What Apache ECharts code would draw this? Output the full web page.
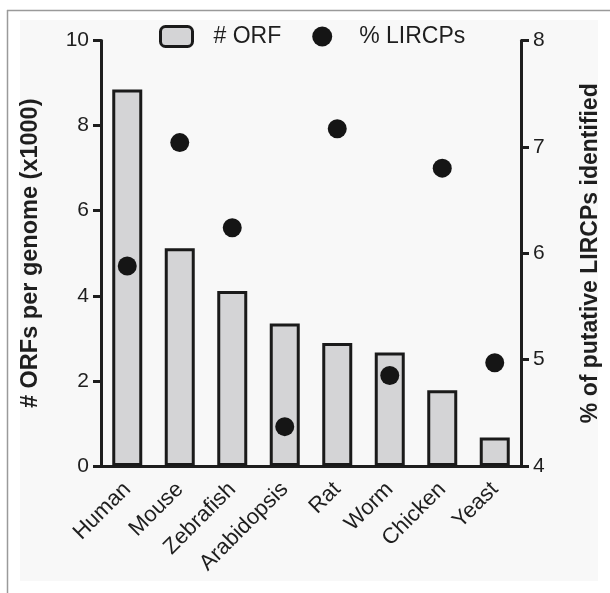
<!DOCTYPE html>
<html>
<head>
<meta charset="utf-8">
<script src="https://cdn.jsdelivr.net/npm/echarts@6/dist/echarts.min.js"></script>
<style>
html,body{margin:0;padding:0;background:#fff;}
#chart{width:610px;height:593px;}
</style>
</head>
<body>
<div id="chart"></div>
<script>
var categories = ['Human','Mouse','Zebrafish','Arabidopsis','Rat','Worm','Chicken','Yeast'];
var orfValues = [8.85, 5.12, 4.11, 3.35, 2.89, 2.67, 1.78, 0.67];
var lircpValues = [5.88, 7.04, 6.24, 4.37, 7.17, 4.85, 6.80, 4.97];
var leftTicks = {min: 0, max: 10, interval: 2};
var rightTicks = {min: 4, max: 8, interval: 1};

var ink = '#1e1e1e';
var font = 'Liberation Sans, Arial, Helvetica, sans-serif';
var chart = echarts.init(document.getElementById('chart'), null, {renderer: 'canvas'});

chart.setOption({
  backgroundColor: '#ffffff',
  animation: false,
  textStyle: {fontFamily: font},
  graphic: [
    {type: 'rect', z: -10, shape: {x: 20, y: 20, width: 578, height: 561}, style: {fill: '#f8f8f8'}},
    {type: 'line', z: -5, shape: {x1: 7, y1: 10.5, x2: 610, y2: 10.5}, style: {stroke: '#9a9a9a', lineWidth: 1.5}},
    {type: 'line', z: -5, shape: {x1: 7.5, y1: 10, x2: 7.5, y2: 593}, style: {stroke: '#9a9a9a', lineWidth: 1.5}}
  ],
  legend: {
    left: 159,
    top: 25,
    padding: 0,
    itemWidth: 32,
    itemHeight: 20,
    itemGap: 31,
    textStyle: {fontSize: 23, color: ink, fontFamily: font, padding: [0, 0, 0, 16]},
    data: [
      {name: '# ORF', itemStyle: {color: '#d4d4d6', borderColor: '#1a1a1a', borderWidth: 3, opacity: 1}},
      {name: '% LIRCPs', itemStyle: {color: '#151515', opacity: 1}}
    ]
  },
  grid: {left: 101, right: 83.5, top: 40.5, bottom: 127, containLabel: false},
  xAxis: {
    type: 'category',
    data: categories,
    axisLine: {lineStyle: {color: ink, width: 3}},
    axisTick: {alignWithLabel: true, length: 8, lineStyle: {color: ink, width: 3}},
    axisLabel: {rotate: 45, fontSize: 22, color: ink, margin: 20, fontFamily: font}
  },
  yAxis: [
    {
      type: 'value', position: 'left',
      min: leftTicks.min, max: leftTicks.max, interval: leftTicks.interval,
      name: '# ORFs per genome (x1000)', nameLocation: 'middle', nameRotate: 90, nameGap: 58,
      nameTextStyle: {fontSize: 23.5, fontWeight: 'bold', color: ink, fontFamily: font},
      axisLine: {show: true, lineStyle: {color: ink, width: 3}},
      axisTick: {show: true, length: 8, lineStyle: {color: ink, width: 3}},
      axisLabel: {fontSize: 21, color: ink, margin: 12, fontFamily: font},
      splitLine: {show: false}
    },
    {
      type: 'value', position: 'right',
      min: rightTicks.min, max: rightTicks.max, interval: rightTicks.interval,
      name: '% of putative LIRCPs identified', nameLocation: 'middle', nameRotate: 90, nameGap: 58,
      nameTextStyle: {fontSize: 23, fontWeight: 'bold', color: ink, fontFamily: font},
      axisLine: {show: true, lineStyle: {color: ink, width: 3}},
      axisTick: {show: true, length: 8, lineStyle: {color: ink, width: 3}},
      axisLabel: {fontSize: 21, color: ink, margin: 12, fontFamily: font},
      splitLine: {show: false}
    }
  ],
  series: [
    {
      name: '# ORF', type: 'bar', yAxisIndex: 0, data: orfValues,
      barWidth: 30,
      itemStyle: {color: '#d4d4d6', borderColor: '#1a1a1a', borderWidth: 3, opacity: 1}
    },
    {
      name: '% LIRCPs', type: 'scatter', yAxisIndex: 1, data: lircpValues,
      symbol: 'circle', symbolSize: 19,
      itemStyle: {color: '#151515', opacity: 1}
    }
  ]
});
</script>
</body>
</html>
